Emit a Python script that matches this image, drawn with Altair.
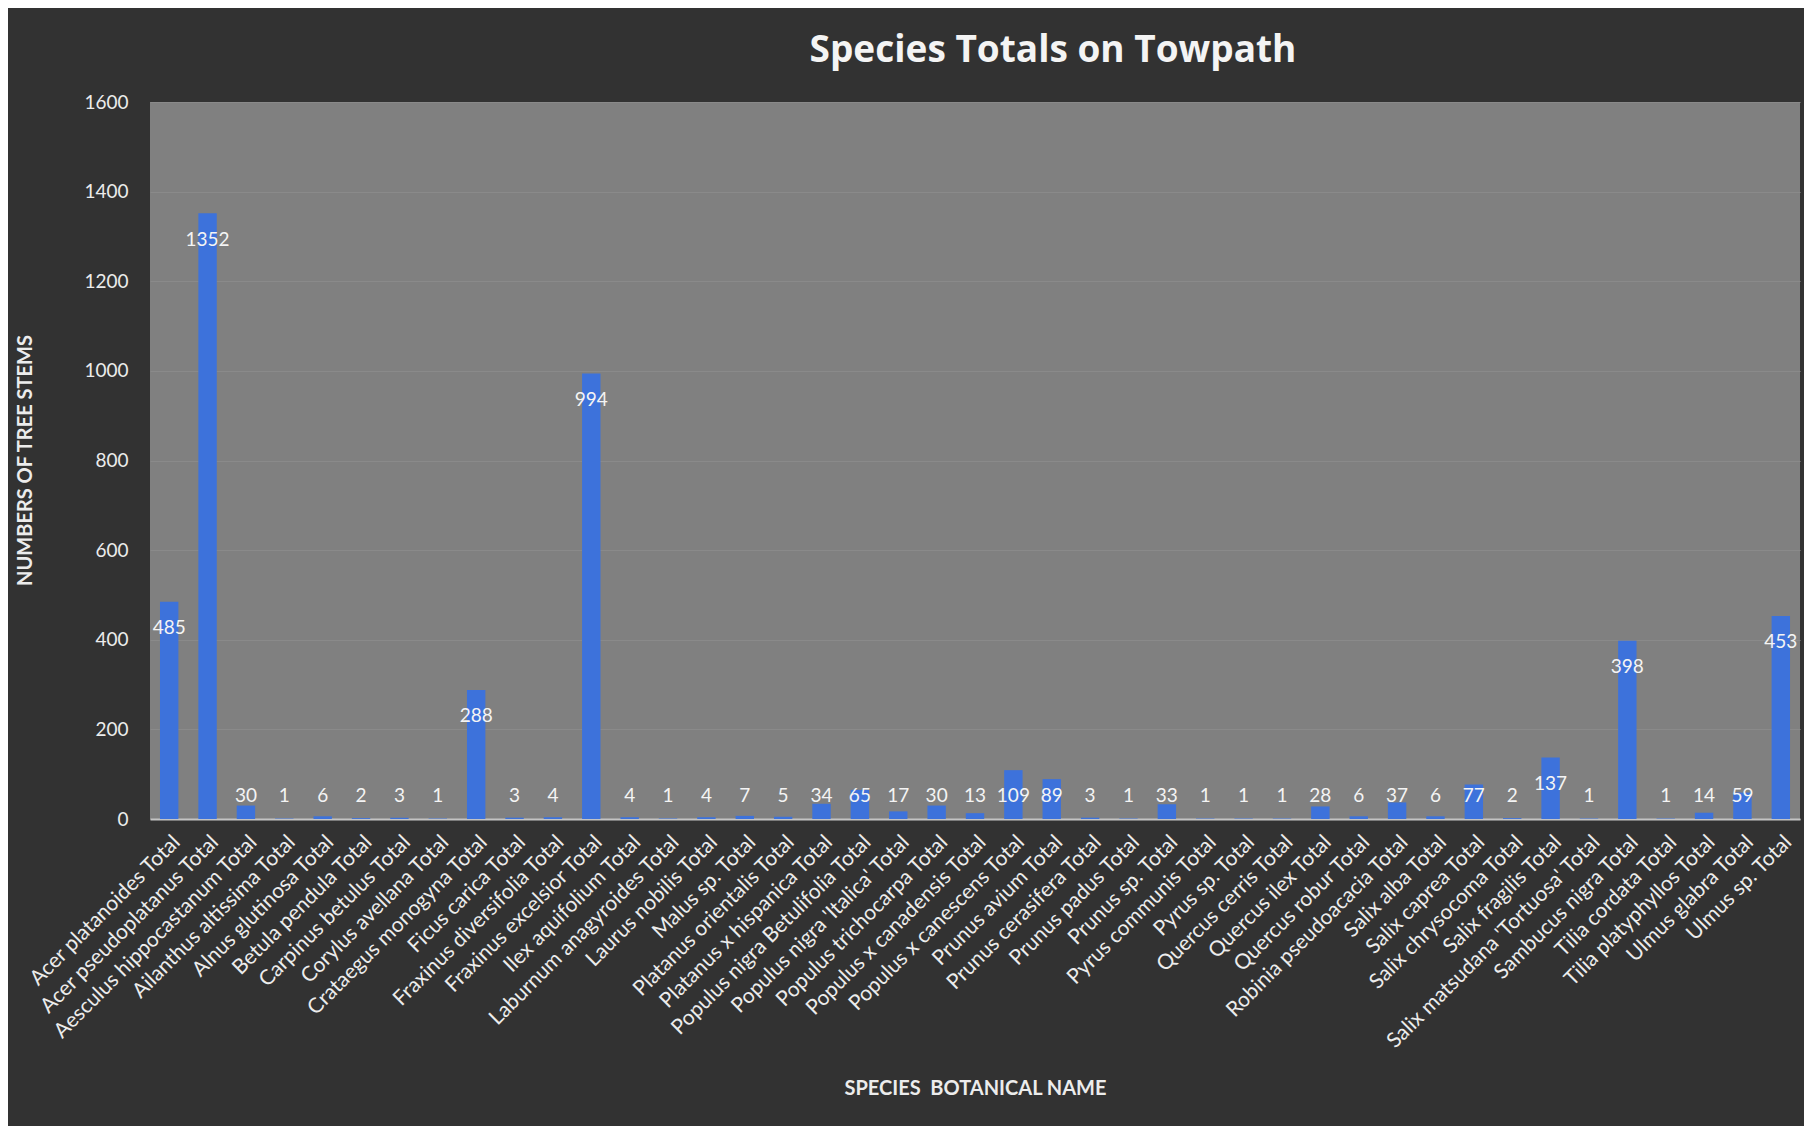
import altair as alt
import pandas as pd

species = [
    "Acer platanoides Total", "Acer pseudoplatanus Total", "Aesculus hippocastanum Total",
    "Ailanthus altissima Total", "Alnus glutinosa Total", "Betula pendula Total",
    "Carpinus betulus Total", "Corylus avellana Total", "Crataegus monogyna Total",
    "Ficus carica Total", "Fraxinus diversifolia Total", "Fraxinus excelsior Total",
    "Ilex aquifolium Total", "Laburnum anagyroides Total", "Laurus nobilis Total",
    "Malus sp. Total", "Platanus orientalis Total", "Platanus x hispanica Total",
    "Populus nigra Betulifolia Total", "Populus nigra 'Italica' Total", "Populus trichocarpa Total",
    "Populus x canadensis Total", "Populus x canescens Total", "Prunus avium Total",
    "Prunus cerasifera Total", "Prunus padus Total", "Prunus sp. Total",
    "Pyrus communis Total", "Pyrus sp. Total", "Quercus cerris Total",
    "Quercus ilex Total", "Quercus robur Total", "Robinia pseudoacacia Total",
    "Salix alba Total", "Salix caprea Total", "Salix chrysocoma Total",
    "Salix fragilis Total", "Salix matsudana 'Tortuosa' Total", "Sambucus nigra Total",
    "Tilia cordata Total", "Tilia platyphyllos Total", "Ulmus glabra Total",
    "Ulmus sp. Total",
]
counts = [
    485, 1352, 30, 1, 6, 2, 3, 1, 288, 3, 4, 994, 4, 1, 4, 7, 5, 34, 65, 17, 30, 13,
    109, 89, 3, 1, 33, 1, 1, 1, 28, 6, 37, 6, 77, 2, 137, 1, 398, 1, 14, 59, 453,
]
y_ticks = [0, 200, 400, 600, 800, 1000, 1200, 1400, 1600]

df = pd.DataFrame({"species": species, "count": counts})

FONT = "Lato"
TXT = "#ececec"

x_enc = alt.X(
    "species:N",
    sort=None,
    title="SPECIES\u00a0\u00a0BOTANICAL NAME",
    scale=alt.Scale(paddingInner=0.52, paddingOuter=0.26),
    axis=alt.Axis(
        labelAngle=-45,
        labelFontSize=21,
        labelFont=FONT,
        labelColor=TXT,
        labelLimit=500,
        labelOverlap=False,
        labelPadding=12,
        ticks=False,
        domainColor="#c4c4c4",
        domainWidth=2,
        titleFont=FONT,
        titleFontSize=20,
        titleFontWeight="bold",
        titleColor=TXT,
        titleX=825,
        titleY=269,
        titleBaseline="middle",
        titleAlign="center",
    ),
)

bars = alt.Chart(df).mark_bar(color="#3d72db").encode(
    x=x_enc,
    y=alt.Y(
        "count:Q",
        title="NUMBERS OF TREE STEMS",
        scale=alt.Scale(domain=[0, 1600], nice=False),
        axis=alt.Axis(
            values=y_ticks,
            format="d",
            labelFontSize=19,
            labelFont=FONT,
            labelColor=TXT,
            labelPadding=22,
            ticks=False,
            domain=False,
            gridColor="#8a8a8a",
            gridWidth=1,
            titleFont=FONT,
            titleFontSize=20,
            titleFontWeight="bold",
            titleColor=TXT,
            titleX=-125,
            titleY=358,
            titleBaseline="middle",
            titleAlign="center",
        ),
    ),
)

labels = (
    alt.Chart(df)
    .transform_calculate(label_y="max(datum.count - 59, 51)")
    .mark_text(font=FONT, fontSize=19, color="#f4f4f4", baseline="middle", align="center")
    .encode(
        x=alt.X("species:N", sort=None),
        y=alt.Y("label_y:Q"),
        text=alt.Text("count:Q"),
    )
)

chart = (
    alt.layer(bars, labels)
    .properties(
        width=1650,
        height=717,
        background="#323232",
        padding={"left": 142, "top": 94, "right": 4, "bottom": 307},
        autosize=alt.AutoSizeParams(type="none"),
        title=alt.TitleParams(
            "Species Totals on Towpath",
            font="Open Sans",
            fontSize=37,
            fontWeight="bold",
            color="#f4f4f4",
            anchor="middle",
            frame="group",
            dx=78,
            offset=23,
        ),
    )
    .configure_view(fill="#808080", strokeWidth=0)
)

chart.save("out.html", embed_options={"renderer": "svg", "actions": False})
